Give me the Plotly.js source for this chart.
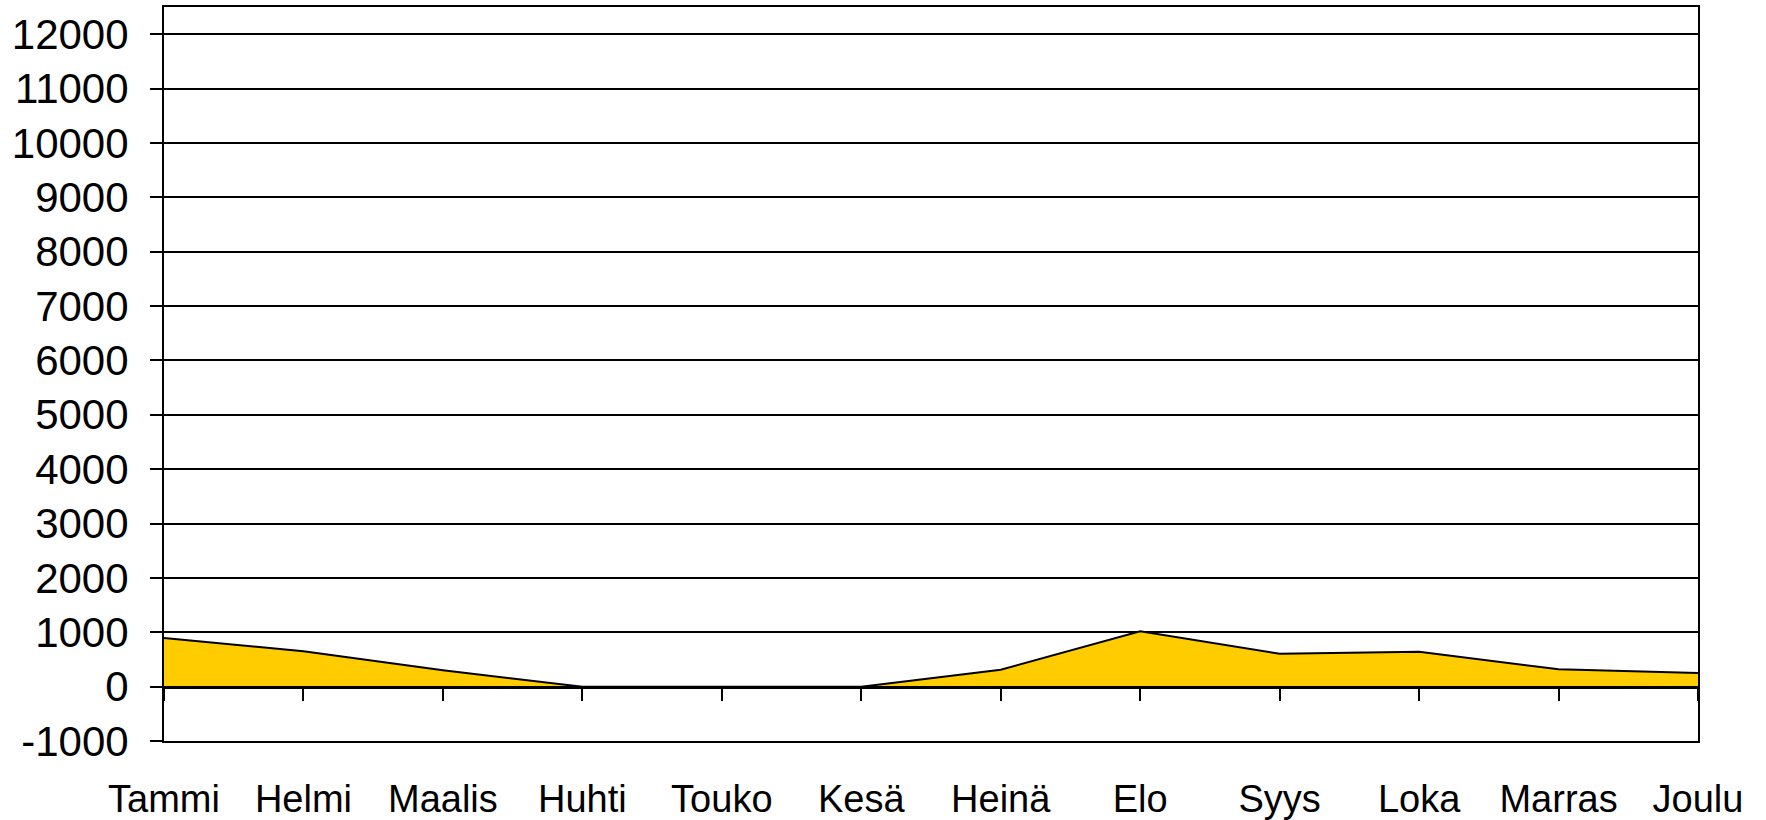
<!DOCTYPE html>
<html>
<head>
<meta charset="utf-8">
<script src="https://cdn.plot.ly/plotly-3.0.1.min.js"></script>
<style>
  html, body { margin: 0; padding: 0; background: #ffffff; }
  #chart { width: 1766px; height: 820px; }
</style>
</head>
<body>
<div id="chart"></div>
<script>
const months = ["Tammi", "Helmi", "Maalis", "Huhti", "Touko", "Kesä", "Heinä", "Elo", "Syys", "Loka", "Marras", "Joulu"];
const values = [895, 650, 300, 0, 0, 0, 310, 1020, 605, 640, 320, 250];
const yTicks = [-1000, 0, 1000, 2000, 3000, 4000, 5000, 6000, 7000, 8000, 9000, 10000, 11000, 12000];

const FONT = '"Liberation Sans", Arial, sans-serif';
const yMin = -1000, yMax = 12500;

const traces = [
  {
    x: months,
    y: values,
    type: 'scatter',
    mode: 'lines',
    fill: 'tozeroy',
    fillcolor: '#FFCC00',
    line: { color: '#000000', width: 2 },
    hoverinfo: 'x+y',
    showlegend: false
  },
  {
    x: months,
    y: values,
    xaxis: 'x2',
    type: 'scatter',
    mode: 'lines',
    line: { color: 'rgba(0,0,0,0)', width: 0 },
    hoverinfo: 'skip',
    showlegend: false
  }
];

const layout = {
  width: 1766,
  height: 820,
  margin: { l: 164, r: 68, t: 7, b: 79 },
  paper_bgcolor: '#ffffff',
  plot_bgcolor: '#ffffff',
  font: { family: FONT, color: '#000000' },
  showlegend: false,
  xaxis: {
    type: 'category',
    categoryorder: 'array',
    categoryarray: months,
    range: [0, months.length - 1],
    showgrid: false,
    zeroline: false,
    showline: true,
    linecolor: '#000000',
    linewidth: 2,
    mirror: true,
    ticks: '',
    tickfont: { family: FONT, size: 38, color: '#000000' },
    ticklabelstandoff: 23,
    fixedrange: true
  },
  xaxis2: {
    type: 'category',
    categoryorder: 'array',
    categoryarray: months,
    range: [0, months.length - 1],
    overlaying: 'x',
    anchor: 'free',
    position: (0 - yMin) / (yMax - yMin),
    side: 'bottom',
    showgrid: false,
    zeroline: false,
    showline: true,
    linecolor: '#000000',
    linewidth: 3,
    ticks: 'outside',
    ticklen: 12,
    tickwidth: 2,
    tickcolor: '#000000',
    showticklabels: false,
    layer: 'above traces',
    fixedrange: true
  },
  yaxis: {
    range: [yMin, yMax],
    tickvals: yTicks,
    ticktext: yTicks.map(String),
    showgrid: true,
    gridcolor: '#000000',
    gridwidth: 2,
    zeroline: false,
    showline: true,
    linecolor: '#000000',
    linewidth: 2,
    mirror: true,
    ticks: 'outside',
    ticklen: 12,
    tickwidth: 2,
    tickcolor: '#000000',
    tickfont: { family: FONT, size: 42, color: '#000000' },
    ticklabelstandoff: 13,
    fixedrange: true
  }
};

Plotly.newPlot('chart', traces, layout, { displayModeBar: false, staticPlot: true });
</script>
</body>
</html>
